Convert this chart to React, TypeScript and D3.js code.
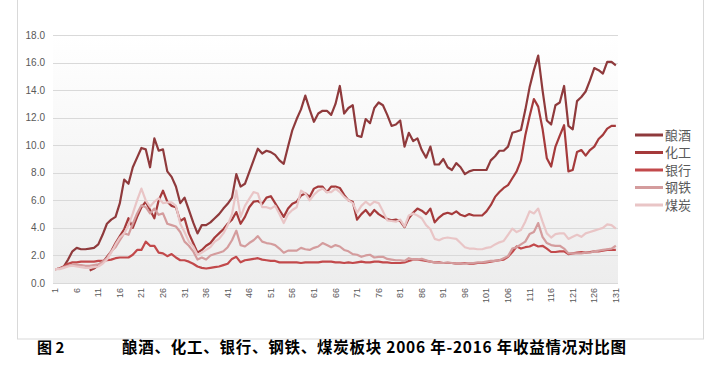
import React, { useRef, useEffect } from 'react';
import * as d3 from 'd3';

// returns (normalised) per period, 131 periods
const liquor = [
  1.0, 1.05, 1.2, 1.7, 2.3, 2.55, 2.45, 2.45, 2.5, 2.55,
  2.8, 3.5, 4.3, 4.6, 4.8, 5.8, 7.5, 7.2, 8.4, 9.1,
  9.8, 9.7, 8.4, 10.5, 9.6, 9.7, 8.1, 7.7, 7.0, 5.8,
  6.2, 5.3, 4.4, 3.6, 4.2, 4.2, 4.4, 4.7, 5.0, 5.4,
  5.75, 6.2, 7.9, 7.0, 7.2, 8.05, 8.9, 9.75, 9.4, 9.6,
  9.5, 9.3, 8.9, 8.65, 9.9, 11.1, 11.9, 12.6, 13.6, 12.6,
  11.7, 12.3, 12.5, 12.5, 12.2, 13.0, 14.3, 12.3, 12.7, 12.9,
  10.7, 10.6, 11.9, 11.6, 12.7, 13.1, 12.9, 12.2, 11.4, 11.5,
  11.8, 9.9, 10.9, 10.3, 10.5, 9.65, 9.1, 9.9, 8.6, 8.6,
  9.0, 8.4, 8.2, 8.7, 8.4, 7.9, 8.1, 8.2, 8.2, 8.2,
  8.2, 8.9, 9.2, 9.6, 9.6, 9.9, 10.9, 11.0, 11.1, 12.55,
  14.2, 15.45, 16.5, 14.0, 11.8, 11.5, 12.9, 13.1, 14.3, 11.4,
  11.15, 13.2, 13.5, 13.9, 14.7, 15.6, 15.45, 15.2, 16.05, 16.05, 15.8,
];

const chemical = [
  null, null, null, null, null, null, null, null, 0.9, 1.05,
  1.3, 1.5, 1.9, 2.3, 2.9, 3.4, 3.9, 4.7, 4.0, 4.8,
  5.5, 5.9, 5.3, 4.7, 6.0, 6.7, 5.9, 5.6, 5.5, 4.5,
  4.7, 3.6, 2.9, 2.2, 2.4, 2.7, 2.9, 3.3, 3.6, 3.9,
  4.3, 4.6, 5.15, 4.3, 4.8, 5.5, 5.9, 5.95, 5.75, 6.2,
  6.3, 5.8, 5.3, 4.8, 5.4, 5.75, 5.9, 6.35, 6.5, 6.25,
  6.85, 7.0, 7.0, 6.6, 7.0, 7.0, 6.9, 6.4, 6.0, 5.9,
  4.6, 5.0, 5.3, 4.9, 5.3, 5.0, 4.8, 4.65, 4.55, 4.6,
  4.5, 4.05, 4.7, 5.1, 5.4, 5.25, 5.0, 5.4, 4.4, 4.75,
  5.0, 5.1, 5.0, 5.2, 4.95, 4.85, 5.0, 4.9, 4.9, 4.9,
  5.2, 5.65, 6.25, 6.6, 6.9, 7.1, 7.6, 8.1, 8.9, 10.7,
  12.1, 13.35, 12.8, 11.2, 9.05, 8.45, 9.9, 10.7, 11.45, 8.1,
  8.2, 9.5, 9.65, 9.25, 9.65, 9.9, 10.45, 10.75, 11.2, 11.4, 11.4,
];

const bank = [
  1.0, 1.05, 1.2, 1.4, 1.5, 1.5, 1.55, 1.55, 1.55, 1.55,
  1.6, 1.6, 1.65, 1.7, 1.8, 1.85, 1.85, 1.85, 2.05, 2.4,
  2.4, 3.0, 2.7, 2.7, 2.2, 2.15, 1.95, 2.1, 1.85, 1.65,
  1.65, 1.55, 1.4, 1.2, 1.1, 1.05, 1.1, 1.15, 1.2, 1.3,
  1.4, 1.75, 1.9, 1.5, 1.65, 1.7, 1.75, 1.8, 1.7, 1.65,
  1.6, 1.6, 1.5, 1.5, 1.5, 1.5, 1.5, 1.45, 1.5, 1.5,
  1.5, 1.5, 1.55, 1.55, 1.55, 1.5, 1.5, 1.45, 1.5, 1.45,
  1.5, 1.55, 1.5, 1.5, 1.55, 1.55, 1.5, 1.5, 1.45, 1.45,
  1.45, 1.5, 1.6, 1.7, 1.7, 1.65, 1.6, 1.55, 1.5, 1.5,
  1.45, 1.45, 1.45, 1.4, 1.4, 1.45, 1.4, 1.4, 1.45, 1.45,
  1.5, 1.55, 1.6, 1.65, 1.7, 1.9, 2.25, 2.65, 2.5, 2.6,
  2.65, 2.8, 2.65, 2.7, 2.5, 2.25, 2.25, 2.3, 2.3, 2.1,
  2.15, 2.2, 2.25, 2.2, 2.25, 2.3, 2.3, 2.35, 2.4, 2.4, 2.4,
];

const steel = [
  1.0, 1.05, 1.15, 1.25, 1.3, 1.3, 1.3, 1.25, 1.25, 1.3,
  1.35, 1.55, 1.8, 2.3, 2.6, 3.1, 3.6, 3.5, 4.3, 5.05,
  5.65, 5.5, 5.05, 5.4, 4.95, 5.05, 4.3, 4.2, 4.1, 3.7,
  3.0, 2.7, 2.3, 1.7, 1.85, 1.7, 2.0, 2.1, 2.2, 2.3,
  2.6, 3.1, 3.8, 2.75, 2.65, 2.9, 3.1, 3.4, 3.0, 2.9,
  2.85, 2.75, 2.5, 2.2, 2.35, 2.35, 2.35, 2.55, 2.45, 2.4,
  2.55, 2.65, 2.9, 2.75, 2.6, 2.75, 2.65, 2.4, 2.3, 2.1,
  2.05, 1.9, 2.0, 2.05, 1.85, 1.9, 1.9, 1.75, 1.7, 1.65,
  1.65, 1.6, 1.8, 1.7, 1.7, 1.75, 1.65, 1.55, 1.5, 1.45,
  1.45, 1.5, 1.45, 1.4, 1.4, 1.4, 1.45, 1.45, 1.5, 1.5,
  1.55, 1.6, 1.6, 1.65, 1.8, 1.95, 2.5, 2.6, 2.8, 3.0,
  3.55, 3.7, 4.35, 3.35, 2.9, 2.75, 2.7, 2.7, 2.5, 2.15,
  2.15, 2.15, 2.15, 2.2, 2.2, 2.3, 2.35, 2.4, 2.45, 2.5, 2.7,
];

const coal = [
  1.0, 1.0, 1.1, 1.2, 1.25, 1.2, 1.15, 1.1, 1.1, 1.15,
  1.2, 1.4, 1.7, 2.2, 2.8, 3.3, 3.6, 4.2, 5.05, 6.0,
  6.85, 6.0, 5.55, 5.9, 6.15, 5.8, 5.85, 5.85, 5.6, 4.3,
  3.7, 3.0, 2.65, 2.05, 2.2, 2.4, 2.6, 3.0, 3.2, 3.6,
  4.2, 5.0, 6.7, 4.8, 5.6, 6.1, 6.6, 6.5, 5.5, 5.5,
  5.4, 5.6, 5.0, 4.35, 5.0, 5.3, 5.5, 6.7, 6.5, 6.0,
  6.4, 6.7, 6.85, 6.6, 6.6, 6.85, 6.6, 6.25, 6.0, 5.8,
  5.1, 5.6, 5.9, 5.65, 5.9, 5.8, 5.2, 4.55, 4.5, 4.45,
  4.6, 4.1, 4.9, 5.05, 4.9, 4.7, 4.2, 3.9, 3.2, 3.1,
  3.25, 3.3, 3.25, 3.2, 2.9, 2.6, 2.5, 2.5, 2.45, 2.45,
  2.55, 2.6, 2.8, 2.95, 3.05, 3.5, 3.95, 3.7, 3.85, 4.45,
  5.2, 5.05, 5.4, 4.45, 3.6, 3.3, 3.55, 3.6, 3.6, 3.2,
  3.35, 3.5, 3.35, 3.6, 3.7, 3.8, 3.9, 4.0, 4.25, 4.2, 3.95,
];

const seriesNames = ['酿酒', '化工', '银行', '钢铁', '煤炭'];
const seriesColors = ['#8f3a3c', '#a53a3b', '#c2494b', '#d49c9d', '#e9c5c6'];
const seriesValues = [liquor, chemical, bank, steel, coal];

const periods = d3.range(1, 132).map(String);
const xTickLabels = periods.filter((_, i) => i % 5 === 0);
const yTicks = [0, 2, 4, 6, 8, 10, 12, 14, 16, 18];

const caption = '酿酒、化工、银行、钢铁、煤炭板块 2006 年-2016 年收益情况对比图';

const App = () => {
  const svgRef = useRef<SVGSVGElement>(null);

  useEffect(() => {
    const width = 720;
    const height = 374;
    const plot = { left: 53, right: 618, top: 35, bottom: 283 };

    d3.select(svgRef.current).selectAll('*').remove();
    const svg = d3.select(svgRef.current)
      .attr('width', width)
      .attr('height', height)
      .style('font-family', '"Liberation Sans", Arial, sans-serif');

    const x = d3.scalePoint<string>()
      .domain(periods)
      .range([plot.left, plot.right])
      .padding(0.5);

    const y = d3.scaleLinear()
      .domain([0, 18])
      .range([plot.bottom, plot.top]);

    // chart frame
    svg.append('rect')
      .attr('x', 17.5).attr('y', -1)
      .attr('width', 686).attr('height', 340)
      .attr('fill', '#fff')
      .attr('stroke', '#d9d9d9');

    // plot background gradient
    const grad = svg.append('defs').append('linearGradient')
      .attr('id', 'plotBg')
      .attr('x1', 0).attr('y1', 0).attr('x2', 0).attr('y2', 1);
    grad.append('stop').attr('offset', '0%').attr('stop-color', '#ffffff');
    grad.append('stop').attr('offset', '100%').attr('stop-color', '#ededed');

    svg.append('rect')
      .attr('x', plot.left).attr('y', plot.top)
      .attr('width', plot.right - plot.left)
      .attr('height', plot.bottom - plot.top)
      .attr('fill', 'url(#plotBg)');

    // gridlines + y labels
    const yAxis = svg.append('g');
    yAxis.selectAll('line')
      .data(yTicks)
      .join('line')
      .attr('x1', plot.left).attr('x2', plot.right)
      .attr('y1', d => Math.round(y(d)) + 0.5)
      .attr('y2', d => Math.round(y(d)) + 0.5)
      .attr('stroke', '#d9d9d9')
      .attr('stroke-width', 1);
    yAxis.selectAll('text')
      .data(yTicks)
      .join('text')
      .attr('x', 45)
      .attr('y', d => y(d))
      .attr('dy', '0.35em')
      .attr('text-anchor', 'end')
      .attr('fill', '#595959')
      .style('font-size', '10px')
      .text(d => d.toFixed(1));

    // x labels, rotated
    svg.append('g')
      .selectAll('text')
      .data(xTickLabels)
      .join('text')
      .attr('transform', d => `translate(${x(d)! + 3},288) rotate(-90)`)
      .attr('text-anchor', 'end')
      .attr('fill', '#595959')
      .style('font-size', '9px')
      .text(d => d);

    // lines
    const line = d3.line<number | null>()
      .defined(d => d != null)
      .x((_, i) => x(periods[i])!)
      .y(d => y(d as number));

    svg.append('g')
      .selectAll('path')
      .data(seriesValues)
      .join('path')
      .attr('d', d => line(d))
      .attr('fill', 'none')
      .attr('stroke', (_, i) => seriesColors[i])
      .attr('stroke-width', 2.2)
      .attr('stroke-linejoin', 'round');

    // legend
    const legend = svg.append('g')
      .selectAll('g')
      .data(seriesNames)
      .join('g')
      .attr('transform', (_, i) => `translate(635,${135 + i * 17.5})`);
    legend.append('line')
      .attr('x1', 0).attr('x2', 28)
      .attr('stroke', (_, i) => seriesColors[i])
      .attr('stroke-width', 3);
    legend.append('text')
      .attr('x', 30)
      .attr('dy', '0.36em')
      .attr('fill', '#595959')
      .style('font-family', '"Noto Sans CJK SC", sans-serif')
      .style('font-size', '13px')
      .text(d => d);

    // caption
    svg.append('text')
      .attr('x', 37).attr('y', 353)
      .style('font-family', '"Noto Sans CJK SC", sans-serif')
      .style('font-size', '15px')
      .style('font-weight', 'bold')
      .attr('fill', '#000')
      .text('图 2');
    svg.append('text')
      .attr('x', 122).attr('y', 353)
      .style('font-family', '"Noto Sans CJK SC", sans-serif')
      .style('font-size', '15.5px')
      .style('font-weight', 'bold')
      .attr('fill', '#000')
      .attr('textLength', 504)
      .text(caption);
  }, []);

  return (
    <svg ref={svgRef} style={{ position: 'absolute', left: 0, top: 0 }}></svg>
  );
};

export default App;
